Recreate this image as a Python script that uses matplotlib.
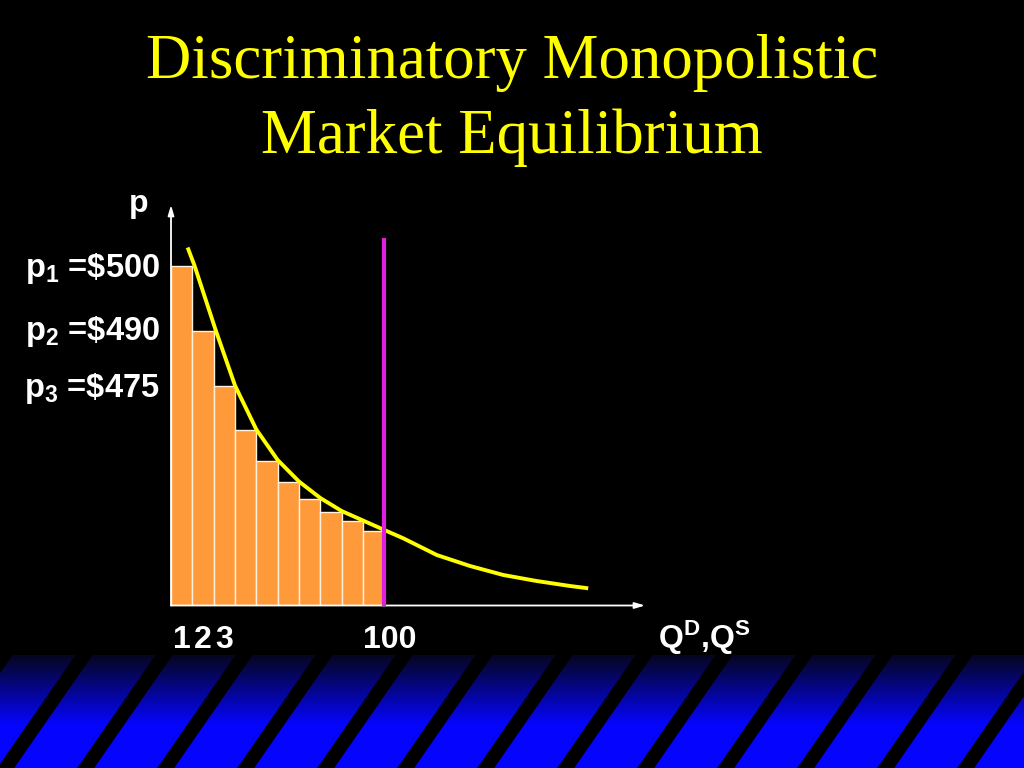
import numpy as np
import matplotlib
matplotlib.use("Agg")
import matplotlib.pyplot as plt
from matplotlib.patches import Polygon

plt.rcParams['mathtext.fontset'] = 'custom'
plt.rcParams['mathtext.rm'] = 'Liberation Sans:bold'
plt.rcParams['mathtext.it'] = 'Liberation Sans:bold'
plt.rcParams['mathtext.bf'] = 'Liberation Sans:bold'

# ---- data (schematic units) ----
title_lines = ["Discriminatory Monopolistic", "Market Equilibrium"]
bar_heights = [340, 275, 219.5, 176, 145, 123.5, 107, 94, 85, 74.5]
demand_q = [0.78, 1.1, 2.1, 3.0, 4.0, 5.0, 6.0, 7.0, 8.0, 9.0, 10.0,
            10.89, 12.46, 14.02, 15.58, 17.14, 18.71, 19.56]
demand_p = [358, 340, 275, 220, 176, 145.5, 124, 107.5, 94.5, 85, 75.5,
            67.2, 50.5, 39.5, 30.5, 24.5, 19.5, 17.2]
quantity_line = 10
quantity_line_top = 366
price_labels = [r'p$_1$ =\$500', r'p$_2$ =\$490', r'p$_3$ =\$475']
price_label_y = [328.5, 265.5, 208.5]
x_labels = ['1', '2', '3', '100']
x_label_pos = [0.5, 1.5, 2.5, 10.25]

W, H = 1024, 768
fig = plt.figure(figsize=(W / 100, H / 100), dpi=100, facecolor='black')

# ---- decorative bottom band ----
bg = fig.add_axes([0, 0, 1, 1], zorder=0)
bg.set_xlim(0, W)
bg.set_ylim(H, 0)
bg.axis('off')
band_top = 655
ys = np.linspace(band_top, H, 200)
blue = np.clip(0.12 + 0.88 * (ys - band_top) / 70.0, 0, 1)
grad = np.zeros((len(ys), 2, 3))
grad[:, :, 2] = blue[:, None]
grad[:, :, 0] = 0.02
grad[:, :, 1] = 0.02
bg.imshow(grad, extent=[0, W, H, band_top], aspect='auto', interpolation='bilinear', zorder=0)
slope = 77.0 / 111.0
sw = 17
for k in range(-2, 15):
    xt = 77 + 80 * k + slope * (band_top - 657)
    xb = xt - slope * (H - band_top)
    bg.add_patch(Polygon([[xt, band_top], [xt + sw, band_top], [xb + sw, H], [xb, H]],
                         closed=True, facecolor='black', edgecolor='none', zorder=1))

# ---- main axes ----
x_per = 21.33
left, right, bottom_px, top_px = 171, 645, 605.5, 205
ax = fig.add_axes([left / W, (H - bottom_px) / H, (right - left) / W, (bottom_px - top_px) / H], zorder=2)
ax.set_xlim(0, (right - left) / x_per)
ax.set_ylim(0, bottom_px - top_px)
ax.axis('off')
ax.patch.set_alpha(0)

ax.bar(np.arange(len(bar_heights)), bar_heights, width=1, align='edge',
       color='#FF9A3A', edgecolor='#FFF2E0', linewidth=1.0, zorder=2)
ax.plot(demand_q, demand_p, color='#FFFF00', lw=2.8, solid_joinstyle='round',
        solid_capstyle='butt', zorder=4)
ax.plot([quantity_line, quantity_line], [0, quantity_line_top], color='#E020E0', lw=3, zorder=5)

xmax = (right - left) / x_per
ymax = bottom_px - top_px
arrow = dict(arrowstyle='-|>,head_length=0.6,head_width=0.18', color='white', lw=1.3,
             shrinkA=0, shrinkB=0)
ax.annotate('', xy=(0, ymax), xytext=(0, 0), arrowprops=arrow, zorder=3, annotation_clip=False)
ax.annotate('', xy=(xmax, 0), xytext=(0, 0), arrowprops=arrow, zorder=3, annotation_clip=False)

lab = dict(color='white', fontweight='bold', family='Liberation Sans', clip_on=False)
for t, y in zip(price_labels, price_label_y):
    ax.text(-0.516, y, t, ha='right', va='baseline', fontsize=23.5, **lab)
ax.text(-1.52, 393.8, 'p', ha='center', va='baseline', fontsize=23, **lab)
for t, x in zip(x_labels, x_label_pos):
    ax.text(x, -42.5, t, ha='center', va='baseline', fontsize=23, **lab)
ax.text(22.83, -42.5, r'Q$^\mathrm{D}$,Q$^\mathrm{S}$', ha='left', va='baseline', fontsize=23, **lab)

# ---- title ----
for line, yb in zip(title_lines, [78, 153]):
    fig.text(0.5, 1 - yb / H, line, ha='center', va='baseline', color='#FFFF00',
             fontsize=45.3, family='Liberation Serif')

fig.savefig('out.png', dpi=100, facecolor='black')
